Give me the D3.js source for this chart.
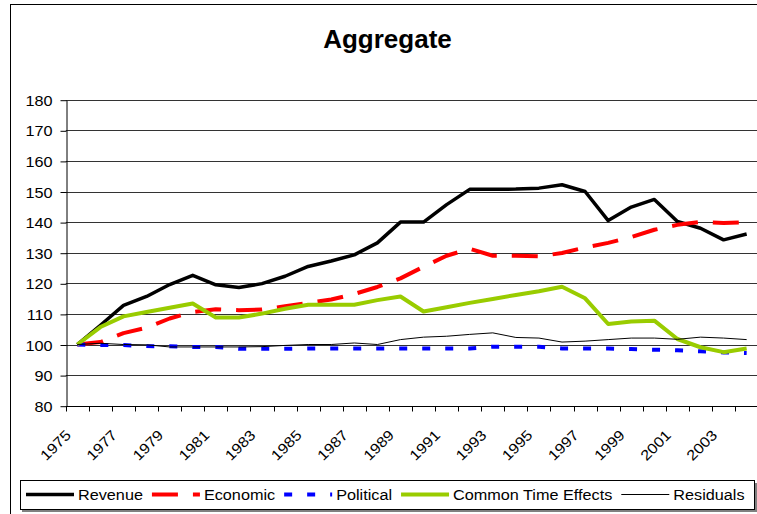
<!DOCTYPE html>
<html>
<head>
<meta charset="utf-8">
<script src="https://cdn.jsdelivr.net/npm/d3@7"></script>
<style>
  body { margin: 0; background: #fff; }
  svg { display: block; font-family: "Liberation Sans", Arial, sans-serif; }
</style>
</head>
<body>
<div id="chart"></div>
<script>
// data
var years = d3.range(1975, 2005);
var yTicks = [80, 90, 100, 110, 120, 130, 140, 150, 160, 170, 180];
var revenue = [100, 106.3, 112.8, 115.7, 119.6, 122.6, 119.5, 118.6, 119.9, 122.3,
               125.5, 127.3, 129.3, 133.2, 140, 140, 145.7, 150.7, 150.7, 150.8,
               151.1, 152.2, 150, 140.5, 144.9, 147.4, 140.2, 138, 134.2, 136.1];
var economic = [100, 100.8, 103.7, 105.5, 108.5, 110.6, 111.5, 111.2, 111.4, 112.5,
                113.6, 114.7, 116.5, 118.8, 121.6, 125.4, 129, 131.3, 129, 129,
                128.8, 129.9, 131.7, 133.2, 135.1, 137.5, 139.1, 140.1, 139.7, 140];
var political = [100, 99.8, 99.8, 99.5, 99.4, 99.2, 99.2, 98.6, 98.6, 98.6,
                 98.7, 98.7, 98.7, 98.7, 98.7, 98.7, 98.7, 98.7, 99.3, 99.3,
                 99.3, 98.7, 98.7, 98.7, 98.5, 98.3, 98.1, 97.8, 97.4, 97.2];
var commonTime = [100, 105.7, 109.2, 110.6, 112, 113.4, 108.8, 108.8, 110.1, 111.7,
                  113, 113, 113, 114.5, 115.7, 110.8, 112.2, 113.6, 114.9, 116.2,
                  117.4, 118.9, 115.1, 106.7, 107.5, 107.8, 101.8, 99.1, 97.5, 98.7];
var residuals = [100, 100.4, 100, 99.9, 99.2, 99.2, 99.2, 99.2, 99.3, 99.7,
                 100, 100, 100.5, 100, 101.6, 102.4, 102.7, 103.3, 103.8, 102.3,
                 102.1, 100.8, 101.1, 101.6, 102.1, 102.1, 101.7, 102.4, 102.1, 101.6];

var series = [
  {name: "Revenue", values: revenue, color: "#000", width: 3.5, dash: null},
  {name: "Economic", values: economic, color: "#ff0000", width: 4, dash: "26,15"},
  {name: "Political", values: political, color: "#0000ff", width: 4, dash: "8,15"},
  {name: "Common Time Effects", values: commonTime, color: "#99cc00", width: 4, dash: null},
  {name: "Residuals", values: residuals, color: "#000", width: 1, dash: null}
];

var W = 757, H = 514;
var plot = {left: 65.8, right: 758.2, top: 99.7, bottom: 405.7};
var fs = "14.5px", sx = 1.12;   // the original text is a bit wide

var svg = d3.select("#chart").append("svg")
    .attr("width", W)
    .attr("height", H);

// outer chart border (cropped on right/bottom)
svg.append("rect")
    .attr("x", 10.5).attr("y", 4.5)
    .attr("width", 900).attr("height", 700)
    .attr("fill", "#fff")
    .attr("stroke", "#000");

// title
svg.append("text")
    .attr("x", 387.5).attr("y", 48)
    .attr("text-anchor", "middle")
    .style("font-size", "26px")
    .style("font-weight", "bold")
    .text("Aggregate");

// scales
var x = d3.scaleBand().domain(years).range([plot.left, plot.right]).padding(0);
var y = d3.scaleLinear().domain([80, 180]).range([plot.bottom, plot.top]);
var cx = (d) => x(d) + x.bandwidth() / 2;

// gridlines
svg.append("g")
    .selectAll("line")
    .data(yTicks.slice(1))
    .join("line")
    .attr("x1", plot.left).attr("x2", W)
    .attr("y1", (d) => Math.round(y(d)) + 0.5)
    .attr("y2", (d) => Math.round(y(d)) + 0.5)
    .attr("stroke", "#333")
    .attr("stroke-width", 1);

// Y axis
var yAxis = svg.append("g")
    .attr("transform", "translate(" + (Math.round(plot.left) + 0.5) + ",0.5)")
    .call(d3.axisLeft(y).tickValues(yTicks).tickSize(6).tickSizeOuter(0));
yAxis.select(".domain").attr("stroke", "#000");
yAxis.selectAll(".tick line").attr("stroke", "#000");
yAxis.selectAll("text")
    .attr("x", null)
    .attr("dy", null)
    .attr("transform", "translate(-14,5) scale(" + sx + ",1)")
    .style("font-size", fs)
    .style("font-family", "Liberation Sans, Arial, sans-serif")
    .attr("fill", "#000");

// X axis line and ticks at category boundaries
var xb = Math.round(plot.bottom) + 0.5;
svg.append("line")
    .attr("x1", plot.left).attr("x2", W)
    .attr("y1", xb).attr("y2", xb)
    .attr("stroke", "#000");
svg.append("g")
    .selectAll("line")
    .data(years)
    .join("line")
    .attr("x1", (d) => Math.round(x(d)) + 0.5)
    .attr("x2", (d) => Math.round(x(d)) + 0.5)
    .attr("y1", xb).attr("y2", xb + 5)
    .attr("stroke", "#000");

// X labels, every other year, rotated
svg.append("g")
    .selectAll("text")
    .data(years.filter((d, i) => i % 2 === 0))
    .join("text")
    .attr("transform", (d) => "translate(" + (cx(d) - 5.5) + ",436) rotate(-45) scale(" + sx + ",1)")
    .attr("text-anchor", "end")
    .style("font-size", fs)
    .text((d) => d);

// lines
var line = d3.line()
    .x((d, i) => cx(years[i]))
    .y((d) => y(d));

svg.append("g")
    .selectAll("path")
    .data(series)
    .join("path")
    .attr("d", (s) => line(s.values))
    .attr("fill", "none")
    .attr("stroke", (s) => s.color)
    .attr("stroke-width", (s) => s.width)
    .attr("stroke-dasharray", (s) => s.dash)
    .attr("stroke-linejoin", "round");

// legend
svg.append("rect")
    .attr("x", 22).attr("y", 483)
    .attr("width", 735).attr("height", 29)
    .attr("fill", "#808080");
svg.append("rect")
    .attr("x", 20.5).attr("y", 480.5)
    .attr("width", 734).attr("height", 29)
    .attr("fill", "#fff")
    .attr("stroke", "#000");

var lx = 26;
series.forEach(function (s) {
    svg.append("line")
        .attr("x1", lx).attr("x2", lx + 48)
        .attr("y1", 494.5).attr("y2", 494.5)
        .attr("stroke", s.color)
        .attr("stroke-width", s.width)
        .attr("stroke-dasharray", s.dash);
    var t = svg.append("text")
        .attr("transform", "translate(" + (lx + 52) + ",500) scale(" + sx + ",1)")
        .style("font-size", fs)
        .text(s.name);
    lx += 52 + t.node().getComputedTextLength() * sx + 9;
});
</script>
</body>
</html>
